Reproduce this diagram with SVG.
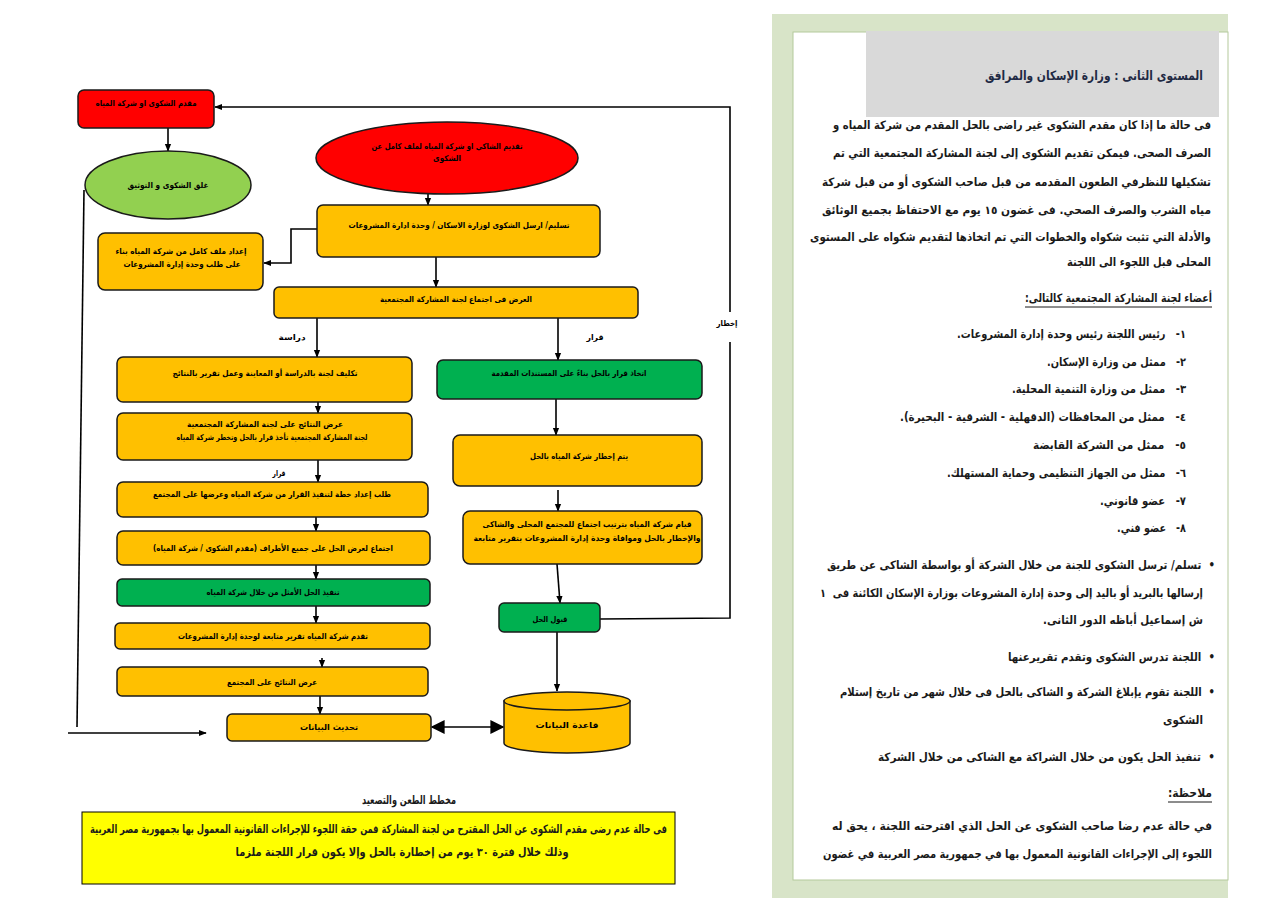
<svg xmlns="http://www.w3.org/2000/svg" width="1280" height="904" viewBox="0 0 1280 904">
<defs>
<style>
.bx{stroke:#1a1a1a;stroke-width:1.5}
.y{fill:#FFC000}
.g{fill:#00B050}
.lg{fill:#92D050}
.r{fill:#FF0000}
.c{fill:none;stroke:#000;stroke-width:1.6}
.t{font-family:"DejaVu Sans",sans-serif;font-weight:bold;font-size:8px;fill:#000;direction:rtl;text-anchor:middle;dominant-baseline:central}
.p{font-family:"DejaVu Sans",sans-serif;font-weight:bold;font-size:11.5px;fill:#1a1a1a;direction:rtl;text-anchor:middle;dominant-baseline:central}
.h{font-family:"DejaVu Sans",sans-serif;font-weight:bold;font-size:13px;fill:#1F2A44;direction:rtl;text-anchor:middle;dominant-baseline:central}
</style>
<marker id="a" viewBox="0 0 10 10" refX="9" refY="5" markerWidth="8" markerHeight="8" markerUnits="userSpaceOnUse" orient="auto"><path d="M0,1 L10,5 L0,9 z" fill="#000"/></marker>
<marker id="b" viewBox="0 0 10 10" refX="9" refY="5" markerWidth="14" markerHeight="14" markerUnits="userSpaceOnUse" orient="auto-start-reverse"><path d="M0,0 L10,5 L0,10 z" fill="#000"/></marker>
</defs>
<rect width="1280" height="904" fill="#fff"/>

<g id="connectors">
<path class="c" d="M600,619 L730,618 L730,342"/>
<path class="c" d="M730,312 L730,107 L215,107" marker-end="url(#a)"/>
<path class="c" d="M168,128 L168,151" marker-end="url(#a)"/>
<path class="c" d="M84,190 L77,727"/>
<path class="c" d="M68,733 L206,733" marker-end="url(#a)"/>
<path class="c" d="M428,194 L428,205" marker-end="url(#a)"/>
<path class="c" d="M317,229 L291,229 L291,263 L264,263" marker-end="url(#a)"/>
<path class="c" d="M436,257 L436,287" marker-end="url(#a)"/>
<path class="c" d="M317,318 L317,357" marker-end="url(#a)"/>
<path class="c" d="M558,318 L558,360" marker-end="url(#a)"/>
<path class="c" d="M318,402 L318,413" marker-end="url(#a)"/>
<path class="c" d="M318,460 L318,482" marker-end="url(#a)"/>
<path class="c" d="M316,517 L316,531" marker-end="url(#a)"/>
<path class="c" d="M316,565 L316,579" marker-end="url(#a)"/>
<path class="c" d="M316,606 L316,623" marker-end="url(#a)"/>
<path class="c" d="M322,658 L322,667" marker-end="url(#a)"/>
<path class="c" d="M320,696 L320,714" marker-end="url(#a)"/>
<path class="c" d="M432,727 L503,727" marker-start="url(#b)" marker-end="url(#b)"/>
<path class="c" d="M556,399 L556,435" marker-end="url(#a)"/>
<path class="c" d="M558,490 L558,511" marker-end="url(#a)"/>
<path class="c" d="M557,564 L560,603" marker-end="url(#a)"/>
<path class="c" d="M557,632 L557,691" marker-end="url(#a)"/>
<text class="t" x="292" y="337" font-size="9" textLength="27" lengthAdjust="spacingAndGlyphs">دراسة</text>
<text class="t" x="595" y="337" font-size="9" textLength="17" lengthAdjust="spacingAndGlyphs">قرار</text>
<text class="t" x="279" y="473" font-size="7" textLength="13" lengthAdjust="spacingAndGlyphs">قرار</text>
<text class="t" x="727" y="323" font-size="9" textLength="21" lengthAdjust="spacingAndGlyphs">إخطار</text>
</g>

<g id="n1"><rect class="bx r" x="78" y="90" width="136" height="38" rx="6"/>
<text class="t" x="146" y="103" textLength="101" lengthAdjust="spacingAndGlyphs">مقدم الشكوى او شركة المياه</text></g>

<g id="n2"><ellipse class="bx lg" cx="168" cy="185" rx="83" ry="34"/>
<text class="t" x="168" y="185" font-size="9.5" textLength="81" lengthAdjust="spacingAndGlyphs">غلق الشكوى و التوثيق</text></g>

<g id="n3"><ellipse class="bx r" cx="447" cy="158" rx="131" ry="36"/>
<text class="t" x="447" y="146" textLength="151" lengthAdjust="spacingAndGlyphs">تقديم الشاكي او شركة المياه لملف كامل عن</text>
<text class="t" x="447" y="158" textLength="28" lengthAdjust="spacingAndGlyphs">الشكوى</text></g>

<g id="n4"><rect class="bx y" x="317" y="205" width="283" height="52" rx="6"/>
<text class="t" x="459" y="225" textLength="221" lengthAdjust="spacingAndGlyphs">تسليم/ ارسل الشكوى لوزارة الاسكان / وحدة ادارة المشروعات</text></g>

<g id="n5"><rect class="bx y" x="98" y="233" width="165" height="57" rx="7"/>
<text class="t" x="181" y="251" font-size="9.5" textLength="131" lengthAdjust="spacingAndGlyphs">إعداد ملف كامل من شركة المياه بناء</text>
<text class="t" x="182" y="264" font-size="9.5" textLength="117" lengthAdjust="spacingAndGlyphs">على طلب وحدة إدارة المشروعات</text></g>

<g id="n6"><rect class="bx y" x="274" y="287" width="364" height="31" rx="5"/>
<text class="t" x="456" y="299" textLength="152" lengthAdjust="spacingAndGlyphs">العرض فى اجتماع لجنة المشاركة المجتمعية</text></g>

<g id="n7"><rect class="bx y" x="117" y="357" width="295" height="45" rx="6"/>
<text class="t" x="265" y="373" textLength="185" lengthAdjust="spacingAndGlyphs">تكليف لجنة بالدراسة أو المعاينة وعمل تقرير بالنتائج</text></g>

<g id="n8"><rect class="bx y" x="117" y="413" width="295" height="47" rx="6"/>
<text class="t" x="265" y="424" textLength="156" lengthAdjust="spacingAndGlyphs">عرض النتائج على لجنة المشاركة المجتمعية</text>
<text class="t" x="272" y="437" textLength="191" lengthAdjust="spacingAndGlyphs">لجنة المشاركة المجتمعية تأخذ قرار بالحل وتخطر شركة المياه</text></g>

<g id="n9"><rect class="bx y" x="117" y="482" width="311" height="35" rx="6"/>
<text class="t" x="272" y="494" textLength="238" lengthAdjust="spacingAndGlyphs">طلب إعداد خطة لتنفيذ القرار من شركة المياه وعرضها على المجتمع</text></g>

<g id="n10"><rect class="bx y" x="117" y="531" width="313" height="34" rx="6"/>
<text class="t" x="273" y="548" textLength="240" lengthAdjust="spacingAndGlyphs">اجتماع لعرض الحل على جميع الأطراف (مقدم الشكوى / شركة المياه)</text></g>

<g id="n11"><rect class="bx g" x="117" y="579" width="313" height="27" rx="5"/>
<text class="t" x="273" y="592" textLength="133" lengthAdjust="spacingAndGlyphs">تنفيذ الحل الأمثل من خلال شركة المياه</text></g>

<g id="n12"><rect class="bx y" x="115" y="623" width="315" height="26" rx="5"/>
<text class="t" x="273" y="636" textLength="190" lengthAdjust="spacingAndGlyphs">تقدم شركة المياه تقرير متابعة لوحدة إدارة المشروعات</text></g>

<g id="n13"><rect class="bx y" x="117" y="667" width="311" height="29" rx="5"/>
<text class="t" x="272" y="682" textLength="90" lengthAdjust="spacingAndGlyphs">عرض النتائج على المجتمع</text></g>

<g id="n14"><rect class="bx y" x="227" y="714" width="204" height="27" rx="5"/>
<text class="t" x="329" y="727" textLength="58" lengthAdjust="spacingAndGlyphs">تحديث البيانات</text></g>

<g id="n15"><path class="bx y" d="M504,701 L504,743 A63,10 0 0 0 630,743 L630,701 Z"/>
<ellipse class="bx y" cx="567" cy="701" rx="63" ry="9"/>
<text class="t" x="567" y="725" font-size="12" textLength="63" lengthAdjust="spacingAndGlyphs">قاعدة البيانات</text></g>

<g id="n16"><rect class="bx g" x="437" y="360" width="265" height="39" rx="6"/>
<text class="t" x="569" y="373" textLength="155" lengthAdjust="spacingAndGlyphs">اتخاذ قرار بالحل بناءً على المستندات المقدمة</text></g>

<g id="n17"><rect class="bx y" x="453" y="435" width="249" height="51" rx="7"/>
<text class="t" x="579" y="456" textLength="98" lengthAdjust="spacingAndGlyphs">يتم إخطار شركة المياه بالحل</text></g>

<g id="n18"><rect class="bx y" x="463" y="511" width="239" height="53" rx="7"/>
<text class="t" x="587" y="524" textLength="209" lengthAdjust="spacingAndGlyphs">قيام شركة المياه بترتيب اجتماع للمجتمع المحلى والشاكى</text>
<text class="t" x="587" y="538" textLength="227" lengthAdjust="spacingAndGlyphs">والإخطار بالحل وموافاة وحدة إدارة المشروعات بتقرير متابعة</text></g>

<g id="n19"><rect class="bx g" x="499" y="603" width="101" height="29" rx="5"/>
<text class="t" x="550" y="619" textLength="35" lengthAdjust="spacingAndGlyphs">قبول الحل</text></g>

<g id="escalation">
<text class="p" x="409" y="800" font-size="12" textLength="94" lengthAdjust="spacingAndGlyphs">مخطط الطعن والتصعيد</text>
<rect x="82" y="812" width="593" height="72" fill="#FFFF00" stroke="#000" stroke-width="1"/>
<text class="p" x="378.5" y="829" font-size="9.5" textLength="577" lengthAdjust="spacingAndGlyphs">فى حالة عدم رضى  مقدم الشكوى عن الحل المقترح من لجنة المشاركة فمن حقة  اللجوء للإجراءات القانونية المعمول بها بجمهورية مصر العربية</text>
<text class="p" x="402" y="852" font-size="9.5" textLength="333" lengthAdjust="spacingAndGlyphs">وذلك خلال فترة ٣٠ يوم من إخطارة بالحل وإلا يكون قرار اللجنة ملزما</text>
</g>

<g id="panel">
<rect x="772" y="14" width="456" height="884" fill="#D8E4C8"/>
<rect x="793" y="32" width="435" height="848" fill="#fff" stroke="#B4C99B" stroke-width="1"/>
<rect x="866" y="31" width="353" height="86" fill="#D9D9D9"/>
<text class="h" x="1094" y="75" textLength="218" lengthAdjust="spacingAndGlyphs">المستوى الثانى : وزارة الإسكان والمرافق</text>
<text class="p" x="1022" y="125" textLength="378" lengthAdjust="spacingAndGlyphs">فى حالة ما إذا كان مقدم الشكوى غير راضى بالحل المقدم من شركة المياه و</text>
<text class="p" x="1022" y="153" textLength="378" lengthAdjust="spacingAndGlyphs">الصرف الصحى. فيمكن تقديم الشكوى إلى لجنة المشاركة المجتمعية التي تم</text>
<text class="p" x="1016.5" y="182" textLength="389" lengthAdjust="spacingAndGlyphs">تشكيلها للنظرفي الطعون المقدمه  من قبل صاحب الشكوى أو من قبل شركة</text>
<text class="p" x="1016.5" y="210" textLength="389" lengthAdjust="spacingAndGlyphs">مياه الشرب والصرف الصحي.  فى غضون  ١٥ يوم مع الاحتفاظ بجميع الوثائق</text>
<text class="p" x="1010.5" y="237" textLength="401" lengthAdjust="spacingAndGlyphs">والأدلة التي تثبت شكواه والخطوات التي تم اتخاذها لتقديم شكواه على المستوى</text>
<text class="p" x="1139" y="262" textLength="144" lengthAdjust="spacingAndGlyphs">المحلى قبل اللجوء الى اللجنة</text>
<text class="p" x="1118.5" y="298" textLength="187" lengthAdjust="spacingAndGlyphs">أعضاء لجنة المشاركة المجتمعية كالتالى:</text>
<line x1="1025" y1="307" x2="1212" y2="307" stroke="#1a1a1a" stroke-width="1"/>
<text class="p" x="1071.5" y="334" textLength="229" lengthAdjust="spacingAndGlyphs">١-&#160;&#160;&#160;رئيس اللجنة رئيس وحدة إدارة المشروعات.</text>
<text class="p" x="1116.5" y="362" textLength="139" lengthAdjust="spacingAndGlyphs">٢-&#160;&#160;&#160;ممثل من وزارة الإسكان.</text>
<text class="p" x="1099" y="389" textLength="174" lengthAdjust="spacingAndGlyphs">٣-&#160;&#160;&#160;ممثل من وزارة التنمية المحلية.</text>
<text class="p" x="1043" y="417" textLength="286" lengthAdjust="spacingAndGlyphs">٤-&#160;&#160;&#160;ممثل من المحافظات (الدقهلية - الشرقية - البحيرة).</text>
<text class="p" x="1109.5" y="445" textLength="153" lengthAdjust="spacingAndGlyphs">٥-&#160;&#160;&#160;ممثل من الشركة القابضة</text>
<text class="p" x="1066.5" y="473" textLength="239" lengthAdjust="spacingAndGlyphs">٦-&#160;&#160;&#160;ممثل من الجهاز التنظيمى وحماية المستهلك.</text>
<text class="p" x="1143" y="501" textLength="86" lengthAdjust="spacingAndGlyphs">٧-&#160;&#160;&#160;عضو قانوني.</text>
<text class="p" x="1151.5" y="528" textLength="69" lengthAdjust="spacingAndGlyphs">٨-&#160;&#160;&#160;عضو فني.</text>
<text class="p" x="1021" y="565" textLength="388" lengthAdjust="spacingAndGlyphs">•&#160;&#160;تسلم/ ترسل الشكوى للجنة من خلال الشركة أو بواسطة الشاكى عن طريق</text>
<text class="p" x="1011.5" y="593" textLength="383" lengthAdjust="spacingAndGlyphs">إرسالها بالبريد أو باليد إلى وحدة إدارة المشروعات بوزارة الإسكان الكائنة فى&#160;&#160;١</text>
<text class="p" x="1123" y="620" textLength="160" lengthAdjust="spacingAndGlyphs">ش إسماعيل أباظه الدور الثانى.</text>
<text class="p" x="1111.5" y="657" textLength="207" lengthAdjust="spacingAndGlyphs">•&#160;&#160;اللجنة تدرس الشكوى وتقدم تقريرعنها</text>
<text class="p" x="1027.5" y="692" textLength="375" lengthAdjust="spacingAndGlyphs">•&#160;&#160;اللجنة تقوم يإبلاغ الشركة و الشاكى بالحل فى خلال شهر من تاريخ إستلام</text>
<text class="p" x="1183" y="720" textLength="40" lengthAdjust="spacingAndGlyphs">الشكوى</text>
<text class="p" x="1046.5" y="757" textLength="337" lengthAdjust="spacingAndGlyphs">•&#160;&#160;تنفيذ الحل يكون من خلال الشراكة مع الشاكى من خلال الشركة</text>
<text class="p" x="1190" y="793" textLength="44" lengthAdjust="spacingAndGlyphs">ملاحظة:</text>
<line x1="1168" y1="802" x2="1212" y2="802" stroke="#1a1a1a" stroke-width="1"/>
<text class="p" x="1022" y="826" font-size="11" textLength="380" lengthAdjust="spacingAndGlyphs">في حالة عدم رضا صاحب الشكوى عن الحل الذي اقترحته اللجنة ، يحق له</text>
<text class="p" x="1017.5" y="854" font-size="11" textLength="389" lengthAdjust="spacingAndGlyphs">اللجوء إلى الإجراءات القانونية المعمول بها في جمهورية مصر العربية في غضون</text>
</g>
</svg>
